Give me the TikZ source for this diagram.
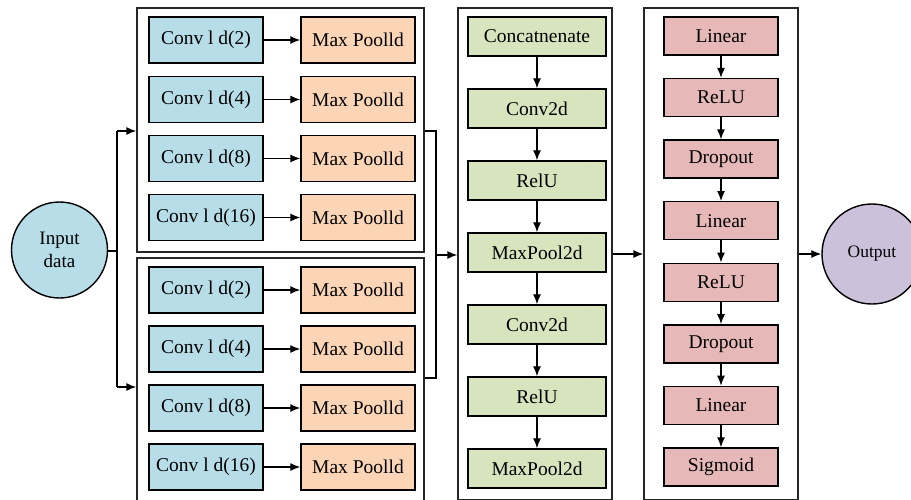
\documentclass[tikz,border=0pt]{standalone}
\usepackage{fontspec}
\setmainfont{Liberation Serif}
\usetikzlibrary{arrows.meta}

\definecolor{convblue}{HTML}{B7DDE8}
\definecolor{poolorange}{HTML}{FBD5B5}
\definecolor{cnngreen}{HTML}{D7E4BD}
\definecolor{fcpink}{HTML}{E6B9B8}
\definecolor{outlilac}{HTML}{CCC1DA}

\tikzset{
  blk/.style={draw=black, line width=1.4pt, minimum height=46pt, minimum width=114pt,
    inner sep=0pt, font=\rmfamily\fontsize{19.5}{23}\selectfont},
  convbox/.style={blk, fill=convblue},
  poolbox/.style={blk, fill=poolorange},
  cnnbox/.style={blk, fill=cnngreen, minimum width=138pt, minimum height=39pt},
  fcbox/.style={blk, fill=fcpink, minimum height=38pt},
  frame/.style={draw=black!85, line width=1.3pt, inner sep=0pt},
  ioball/.style={circle, draw=black, line width=1.4pt, minimum size=96pt, inner sep=0pt,
    align=center, font=\rmfamily\fontsize{19}{23}\selectfont},
  arr/.style={line width=1.3pt, -{Latex[length=10pt,width=8pt]}},
  wire/.style={line width=1.3pt}
}

\begin{document}
\begin{tikzpicture}[x=1pt, y=-1pt]
\useasboundingbox (0,0) rectangle (911,499);
\clip (0,0) rectangle (911,499);

% outer frames
\node[frame, minimum width=287pt, minimum height=244pt] (topf) at (280.5,130) {};
\node[frame, minimum width=287pt, minimum height=258pt] (botf) at (280.5,387) {};
\node[frame, minimum width=154pt, minimum height=492pt] (midf) at (535,254) {};
\node[frame, minimum width=154pt, minimum height=492pt] (rightf) at (721,254) {};

% input and output
\node[ioball, fill=convblue] (in) at (59.5,250) {Input\\data};
\node[ioball, fill=outlilac, minimum size=100pt, font=\rmfamily\fontsize{17.5}{21}\selectfont] (out) at (872,254) {Output};

% convolution branches
\foreach \y/\k/\lab in {40/1/2, 99.5/2/4, 158.5/3/8, 217.5/4/16,
                        290/5/2, 349/6/4, 408/7/8, 467/8/16} {
  \node[convbox] (c\k) at (206,\y) {Conv l d(\lab)};
  \node[poolbox] (p\k) at (358,\y) {Max Poolld};
  \draw[arr] (c\k) -- (p\k);
}

% 2d stage
\foreach \lab [count=\i] in {Concatnenate, Conv2d, RelU, MaxPool2d, Conv2d, RelU, MaxPool2d} {
  \node[cnnbox] (g\i) at (537,{36.5+72*(\i-1)}) {\lab};
}
\foreach \i [evaluate=\i as \j using int(\i+1)] in {1,...,6} {
  \draw[arr] (g\i) -- (g\j);
}

% classifier head
\foreach \lab [count=\i] in {Linear, ReLU, Dropout, Linear, ReLU, Dropout, Linear, Sigmoid} {
  \node[fcbox] (f\i) at (721,{36+61.57*(\i-1)}) {\lab};
}
\foreach \i [evaluate=\i as \j using int(\i+1)] in {1,...,7} {
  \draw[arr] (f\i) -- (f\j);
}

% split from input into both branches
\coordinate (split) at (117,251);
\coordinate (splittop) at (117,131);
\coordinate (splitbot) at (117,387);
\draw[wire] (in.east |- split) -- (split);
\draw[wire] (splittop) -- (splitbot);
\draw[arr] (splittop) -- (topf.west |- splittop);
\draw[arr] (splitbot) -- (botf.west |- splitbot);

% merge of both branches
\coordinate (mtop) at (436,131);
\coordinate (mbot) at (436,378);
\coordinate (mmid) at (436,255);
\draw[wire] (topf.east |- mtop) -- (mtop) -- (mbot) -- (botf.east |- mbot);
\draw[arr] (mmid) -- (midf.west |- mmid);

% stage links
\draw[arr] (midf.east |- 0,254) -- (rightf.west |- 0,254);
\draw[arr] (rightf.east |- out) -- (out.west);
\end{tikzpicture}
\end{document}
